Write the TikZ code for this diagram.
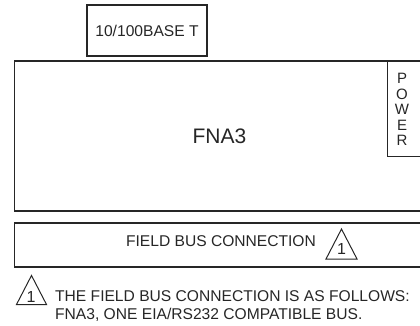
\documentclass[tikz,border=0pt]{standalone}
\usepackage{fontspec}
\setmainfont{Liberation Sans}
\definecolor{ink}{HTML}{262626}
\begin{document}
\begin{tikzpicture}[x=1pt,y=-1pt,
  box/.style={draw=ink, line width=1.8pt, inner sep=0pt, outer sep=0pt},
  thinbox/.style={draw=ink, line width=0.9pt, inner sep=0pt, outer sep=0pt},
  lbl/.style={text=ink, inner sep=0pt, font=\fontsize{15.6}{18}\selectfont},
  tri/.style={draw=ink, line width=1pt, line join=miter},
  trinum/.style={text=ink, inner sep=0pt, font=\fontsize{16}{18}\selectfont}]
\useasboundingbox (0,0) rectangle (420,325);
\clip (0,0) rectangle (420,325);
% 10/100BASE T
\node[box, minimum width=120pt, minimum height=51pt] (eth) at (147,30.5) {};
\node[lbl, anchor=base] (ethtxt) at (147,36.5) {10/100BASE T};
% main FNA3 box
\node[box, minimum width=409.5pt, minimum height=150pt] (fna) at (219.25,136) {};
\node[lbl, anchor=base, font=\fontsize{21}{24}\selectfont] (fnatxt) at (219.5,143) {FNA3};
% power box
\node[thinbox, minimum width=36.5pt, minimum height=95pt] (pwr) at (405.75,108.5) {};
\node[lbl, align=center, font=\fontsize{15}{15.5}\selectfont] (pwrtxt) at (402,109.5) {P\\O\\W\\E\\R};
% field bus box
\node[box, minimum width=409.5pt, minimum height=44pt] (fbus) at (219.25,244.7) {};
\node[lbl, anchor=base] (fbustxt) at (221,246.5) {FIELD BUS CONNECTION};
% triangle in field bus box
\coordinate (ta) at (341.5,229);
\coordinate (tb) at (326,259);
\coordinate (tc) at (357,259);
\draw[tri] (ta) -- (tb) -- (tc) -- cycle;
\node[trinum, anchor=base] (tnum) at (341.5,254) {1};
% note triangle
\coordinate (na) at (31.5,275.5);
\coordinate (nb) at (16.5,304.5);
\coordinate (nc) at (46.5,304.5);
\draw[tri] (na) -- (nb) -- (nc) -- cycle;
\node[trinum, anchor=base] (nnum) at (31,302.5) {1};
% note text
\node[lbl, anchor=base west] (note1) at (55,301.7) {THE FIELD BUS CONNECTION IS AS FOLLOWS:};
\node[lbl, anchor=base west] (note2) at (55,319.5) {FNA3, ONE EIA/RS232 COMPATIBLE BUS.};
\end{tikzpicture}
\end{document}
